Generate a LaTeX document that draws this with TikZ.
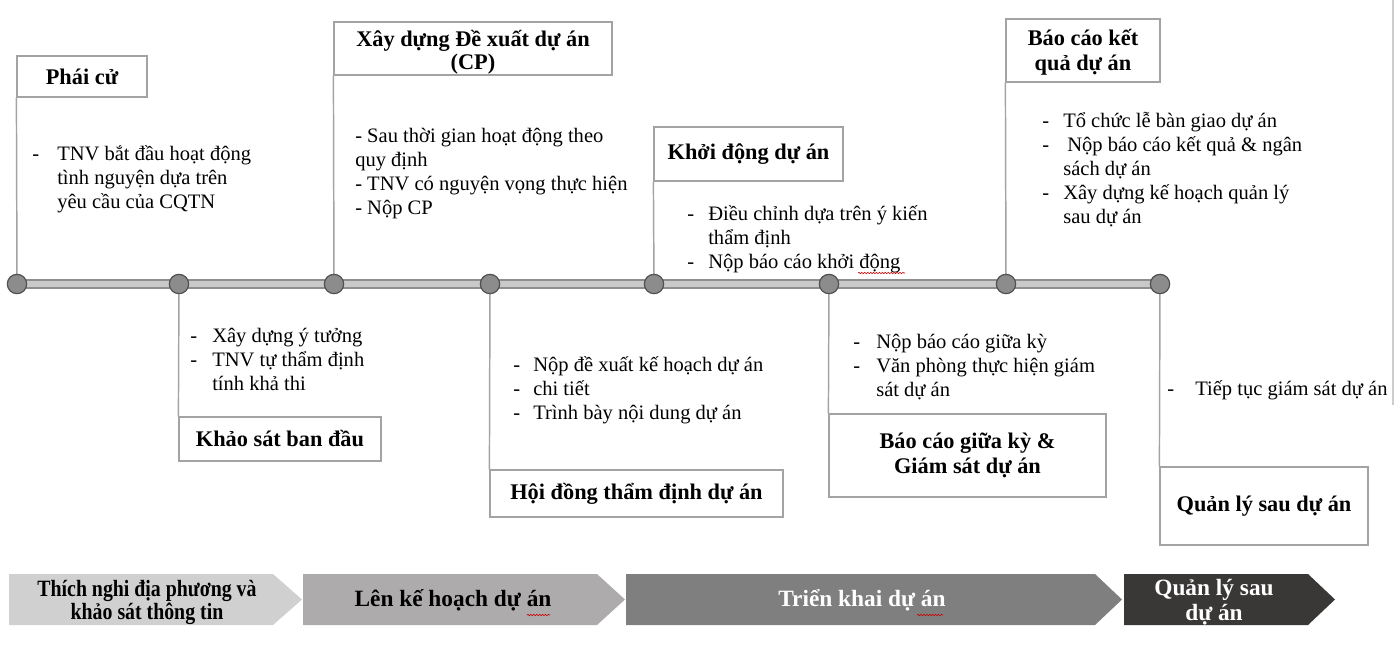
\documentclass[tikz,border=0pt]{standalone}
\usepackage{fontspec}
\setmainfont{Liberation Serif}
\newfontfamily\condfont{Liberation Serif}[FakeStretch=0.85]
\usetikzlibrary{backgrounds,decorations.pathmorphing}
\definecolor{boxline}{HTML}{A3A3A3}
\definecolor{bardark}{HTML}{8E8E8E}
\definecolor{barlight}{HTML}{C9C9C9}
\definecolor{dotfill}{HTML}{8C8C8C}
\definecolor{dotline}{HTML}{505050}
\definecolor{chA}{HTML}{D0D0D0}
\definecolor{chB}{HTML}{ADABAB}
\definecolor{chC}{HTML}{7F7F7F}
\definecolor{chD}{HTML}{3A3737}
\definecolor{edgeline}{HTML}{CDCDCD}
\tikzset{
  hbox/.style={draw=boxline, line width=0.9pt, fill=white, inner sep=0pt, align=center,
    font=\bfseries\fontsize{16.75}{18.75}\selectfont},
  body/.style={inner sep=0pt, anchor=base west, font=\fontsize{15.4}{18}\selectfont},
  link/.style={draw=boxline, line width=1.1pt},
  dot/.style={circle, draw=dotline, fill=dotfill, line width=0.9pt, minimum size=14.5pt, inner sep=0pt},
  chtext/.style={inner sep=0pt, align=center, font=\bfseries\fontsize{17.5}{18.5}\selectfont},
  squig/.style={draw=red!80!black, line width=0.45pt, decorate,
    decoration={snake, amplitude=0.5pt, segment length=2.2pt}},
}
\begin{document}
\begin{tikzpicture}[x=0.75pt,y=-0.75pt]
\useasboundingbox (0,0) rectangle (1399,651);

% timeline dots
\node[dot] (c1) at (17,284) {};
\node[dot] (c2) at (179,284) {};
\node[dot] (c3) at (334,284) {};
\node[dot] (c4) at (490,284) {};
\node[dot] (c5) at (654,284) {};
\node[dot] (c6) at (829,284) {};
\node[dot] (c7) at (1006,284) {};
\node[dot] (c8) at (1160,284) {};

% heading boxes
\node[hbox, minimum width=97.5pt, minimum height=30.75pt] (h1) at (82,76.5) {Phái cử};
\node[hbox, minimum width=208.5pt, minimum height=39.75pt] (h3) at (473,48.5)
  {\raisebox{-3.5pt}[\height][\depth]{\begin{tabular}{@{}c@{}}Xây dựng Đề xuất dự án\\[-1.5pt](CP)\end{tabular}}};
\node[hbox, minimum width=141.75pt, minimum height=40.5pt] (h5) at (748.5,154) {Khởi động dự án};
\node[hbox, minimum width=115.5pt, minimum height=47.25pt] (h7) at (1083,50.5)
  {\raisebox{-1.5pt}[\height][\depth]{\begin{tabular}{@{}c@{}}Báo cáo kết\\quả dự án\end{tabular}}};
\node[hbox, minimum width=151.5pt, minimum height=33pt] (h2) at (280,439) {Khảo sát ban đầu};
\node[hbox, minimum width=219.75pt, minimum height=35.25pt] (h4) at (636.5,493.5) {Hội đồng thẩm định dự án};
\node[hbox, minimum width=207.75pt, minimum height=62.25pt] (h6) at (967.5,455.5) {Báo cáo giữa kỳ \&\\Giám sát dự án};
\node[hbox, minimum width=156pt, minimum height=58.5pt] (h8) at (1264,506) {Quản lý sau dự án};

\begin{pgfonlayer}{background}
  \draw[bardark, line width=7pt] (c1.center) -- (c8.center);
  \draw[barlight, line width=4.8pt] (c1.center) -- (c8.center);
  \draw[link] (c1.center) -- (h1.south west);
  \draw[link] (c3.center) -- (h3.south west);
  \draw[link] (c5.center) -- (h5.south west);
  \draw[link] (c7.center) -- (h7.south west);
  \draw[link] (c2.center) -- (h2.north west);
  \draw[link] (c4.center) -- (h4.north west);
  \draw[link] (c6.center) -- (h6.north west);
  \draw[link] (c8.center) -- (h8.north west);
\end{pgfonlayer}

% body texts
\node[body] (b1) at (32,160) {\begin{tabular}[t]{@{}p{18.75pt}@{}l@{}}
- & TNV bắt đầu hoạt động\\ & tình nguyện dựa trên\\ & yêu cầu của CQTN\end{tabular}};
\node[body] (b3) at (355,142) {\begin{tabular}[t]{@{}l@{}}
- Sau thời gian hoạt động theo\\quy định\\- TNV có nguyện vọng thực hiện\\- Nộp CP\end{tabular}};
\node[body] (b5) at (687,220) {\begin{tabular}[t]{@{}p{15.75pt}@{}l@{}}
- & Điều chỉnh dựa trên ý kiến\\ & thẩm định\\- & Nộp báo cáo khởi động\end{tabular}};
\node[body] (b7) at (1042,127) {\begin{tabular}[t]{@{}p{15.75pt}@{}l@{}}
- & Tổ chức lễ bàn giao dự án\\- & \hspace{3pt}Nộp báo cáo kết quả \& ngân\\ & sách dự án\\- & Xây dựng kế hoạch quản lý\\ & sau dự án\end{tabular}};
\node[body] (b2) at (190,342) {\begin{tabular}[t]{@{}p{16.5pt}@{}l@{}}
- & Xây dựng ý tưởng\\- & TNV tự thẩm định\\ & tính khả thi\end{tabular}};
\node[body] (b4) at (513,371) {\begin{tabular}[t]{@{}p{15pt}@{}l@{}}
- & Nộp đề xuất kế hoạch dự án\\- & chi tiết\\- & Trình bày nội dung dự án\end{tabular}};
\node[body] (b6) at (853,348) {\begin{tabular}[t]{@{}p{17.25pt}@{}l@{}}
- & Nộp báo cáo giữa kỳ\\- & Văn phòng thực hiện giám\\ & sát dự án\end{tabular}};
\node[body] (b8) at (1167,395) {\begin{tabular}[t]{@{}p{21pt}@{}l@{}}
- & Tiếp tục giám sát dự án\end{tabular}};

% right edge line
\draw[edgeline, line width=0.9pt] (1393,0) -- (1393,405);

% phase arrows
\fill[chA] (9,574) -- (273,574) -- (302,599.5) -- (273,625) -- (9,625) -- cycle;
\fill[chB] (303,574) -- (597,574) -- (625,599.5) -- (597,625) -- (303,625) -- cycle;
\fill[chC] (626,574) -- (1095,574) -- (1122,599.5) -- (1095,625) -- (626,625) -- cycle;
\fill[chD] (1124,574) -- (1308,574) -- (1335,599.5) -- (1308,625) -- (1124,625) -- cycle;
\node[chtext, font=\condfont\bfseries\fontsize{17.5}{17.25}\selectfont] (p1) at (147,602.5) {Thích nghi địa phương và\\khảo sát thông tin};
\node[chtext] (p2) at (453,600) {Lên kế hoạch dự án};
\node[chtext, text=white] (p3) at (862,600) {Triển khai dự án};
\node[chtext, text=white] (p4) at (1214,602) {Quản lý sau\\dự án};

% spell-check squiggles
\draw[squig] (858,273) -- (905,273);
\draw[squig] (527,615) -- (550,615);
\draw[squig] (917,615) -- (943,615);
\end{tikzpicture}
\end{document}
